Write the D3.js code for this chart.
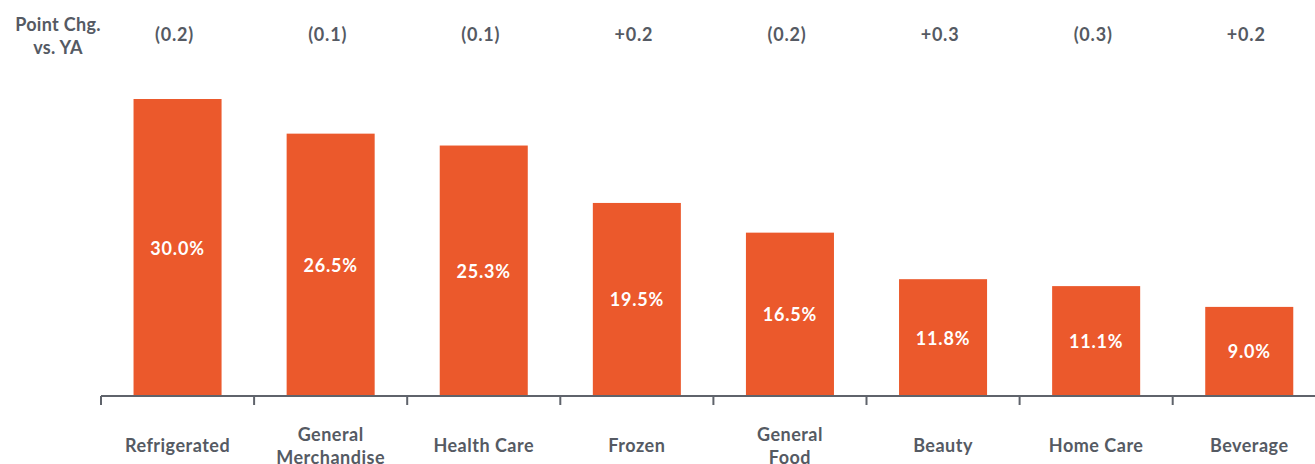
<!DOCTYPE html>
<html>
<head>
	<meta charset="utf-8">
	<title>Point Chg. vs. YA</title>
	<script src="https://d3js.org/d3.v7.min.js"></script>
	<style>
		body { margin: 0; background: #fff; }
		text { font-family: Lato, "Open Sans", sans-serif; font-weight: 700; }
	</style>
</head>
<body>
	<script type="text/javascript">
		// data
		var categories = ["Refrigerated", "General\nMerchandise", "Health Care", "Frozen", "General\nFood", "Beauty", "Home Care", "Beverage"];
		var shares = [30.0, 26.5, 25.3, 19.5, 16.5, 11.8, 11.1, 9.0];
		var changes = ["(0.2)", "(0.1)", "(0.1)", "+0.2", "(0.2)", "+0.3", "(0.3)", "+0.2"];

		var width = 1315;
		var height = 464;
		var baseline = 396;
		var textColor = "#555a63";

		var svg = d3.select("body")
					.append("svg")
					.attr("width", width)
					.attr("height", height);

		// bands run a little past the right edge, like the original
		var xScale = d3.scaleBand()
					   .domain(d3.range(categories.length))
					   .range([101, 101 + 153.1 * categories.length])
					   .paddingInner(0.425)
					   .paddingOuter(0.2125);

		var yScale = d3.scaleLinear()
					   .domain([0, 30])
					   .range([baseline, 99]);

		var bandStep = xScale.step();
		var bandStart = function(i) { return 101 + i * bandStep; };
		var mid = function(i) { return xScale(i) + xScale.bandwidth() / 2; };

		// bars
		svg.selectAll("rect.bar")
		   .data(shares)
		   .enter()
		   .append("rect")
		   .attr("class", "bar")
		   .attr("x", function(d, i) { return xScale(i); })
		   .attr("y", function(d) { return yScale(d); })
		   .attr("width", xScale.bandwidth())
		   .attr("height", function(d) { return baseline - yScale(d); })
		   .attr("fill", "#EB592C");

		// value labels in the middle of each bar
		svg.selectAll("text.value")
		   .data(shares)
		   .enter()
		   .append("text")
		   .attr("class", "value")
		   .attr("x", function(d, i) { return mid(i); })
		   .attr("y", function(d) { return (yScale(d) + baseline) / 2 + 7; })
		   .attr("text-anchor", "middle")
		   .attr("font-size", 18)
		   .attr("letter-spacing", 0.8)
		   .attr("fill", "#fff")
		   .text(function(d) { return d.toFixed(1) + "%"; });

		// axis line and ticks at band edges
		var axis = svg.append("g").attr("stroke", "#5f636b").attr("stroke-width", 2);
		axis.append("line")
			.attr("x1", 101).attr("x2", width)
			.attr("y1", baseline).attr("y2", baseline);
		axis.selectAll("line.tick")
			.data(d3.range(categories.length))
			.enter()
			.append("line")
			.attr("class", "tick")
			.attr("x1", function(i) { return bandStart(i); })
			.attr("x2", function(i) { return bandStart(i); })
			.attr("y1", baseline)
			.attr("y2", baseline + 9);

		// category labels
		svg.selectAll("text.cat")
		   .data(categories)
		   .enter()
		   .append("text")
		   .attr("class", "cat")
		   .attr("text-anchor", "middle")
		   .attr("font-size", 18)
		   .attr("letter-spacing", 0.5)
		   .attr("fill", textColor)
		   .each(function(d, i) {
		   		var lines = d.split("\n");
		   		var y0 = lines.length > 1 ? 441 : 452;
		   		d3.select(this).selectAll("tspan")
		   		  .data(lines)
		   		  .enter()
		   		  .append("tspan")
		   		  .attr("x", mid(i))
		   		  .attr("y", function(l, j) { return y0 + j * 23; })
		   		  .text(function(l) { return l; });
		   });

		// point change row on top
		svg.selectAll("text.chg")
		   .data(changes)
		   .enter()
		   .append("text")
		   .attr("class", "chg")
		   .attr("x", function(d, i) { return mid(i) - 3; })
		   .attr("y", 41)
		   .attr("text-anchor", "middle")
		   .attr("font-size", 18)
		   .attr("letter-spacing", 0.8)
		   .attr("fill", textColor)
		   .text(function(d) { return d; });

		var head = svg.append("text")
					  .attr("text-anchor", "middle")
					  .attr("font-size", 18)
					  .attr("letter-spacing", 0.3)
					  .attr("fill", textColor);
		head.append("tspan").attr("x", 58).attr("y", 31).text("Point Chg.");
		head.append("tspan").attr("x", 58).attr("y", 54).text("vs. YA");
	</script>
</body>
</html>
